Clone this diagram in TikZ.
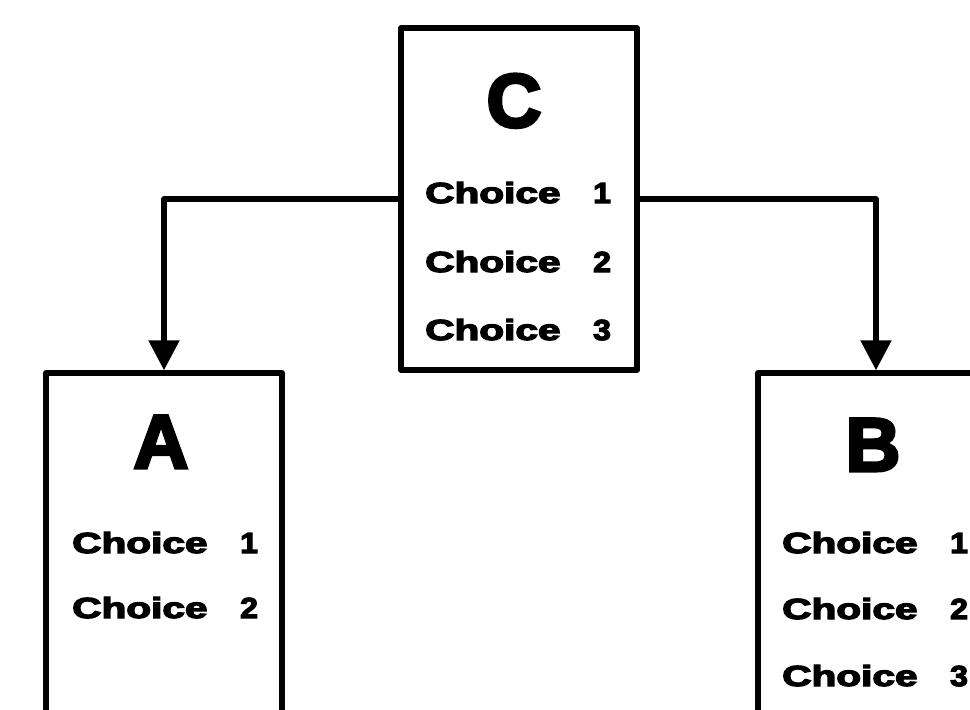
\documentclass[tikz,border=0pt]{standalone}
\usepackage{fontspec}
\usepackage{graphicx}
\usetikzlibrary{arrows.meta}
\newfontfamily\heavy{Liberation Sans}[BoldFeatures={FakeBold=4}]
\newcommand{\chline}[1]{\makebox[168pt][l]{\scalebox{1.4}[1]{Choice}}\scalebox{1.1}[1]{#1}}
\tikzset{
  box/.style={draw, line width=5.5pt, minimum width=236pt, inner sep=0pt, line join=round},
  title/.style={anchor=base, inner sep=0pt, font=\heavy\bfseries\fontsize{76}{76}\selectfont},
  choice/.style={anchor=base west, inner sep=0pt, font=\heavy\bfseries\fontsize{29}{29}\selectfont},
  conn/.style={line width=5.5pt, -{Triangle[length=30pt,width=30pt]}, line join=round}
}
\begin{document}
\begin{tikzpicture}[x=1pt,y=-1pt]
\useasboundingbox (0,0) rectangle (970,710);
\clip (0,0) rectangle (970,710);
% boxes
\node[box, minimum height=342pt] (C) at (519,199) {};
\node[box, minimum height=420pt] (A) at (164,583) {};
\node[box, minimum height=420pt] (B) at (876,583) {};
% titles
\node[title] (Ct) at (514,127) {C};
\node[title] (At) at (161,468) {A};
\node[title] (Bt) at (873,471) {B};
% choices in C
\node[choice] (C1) at (425,203) {\chline{1}};
\node[choice] (C2) at (425,272) {\chline{2}};
\node[choice] (C3) at (425,340) {\chline{3}};
% choices in A
\node[choice] (A1) at (72,553) {\chline{1}};
\node[choice] (A2) at (72,618) {\chline{2}};
% choices in B
\node[choice] (B1) at (782,553) {\chline{1}};
\node[choice] (B2) at (782,619) {\chline{2}};
\node[choice] (B3) at (782,686) {\chline{3}};
% connectors
\draw[conn] (C.west) -| (A.north);
\draw[conn] (C.east) -| (B.north);
\end{tikzpicture}
\end{document}
